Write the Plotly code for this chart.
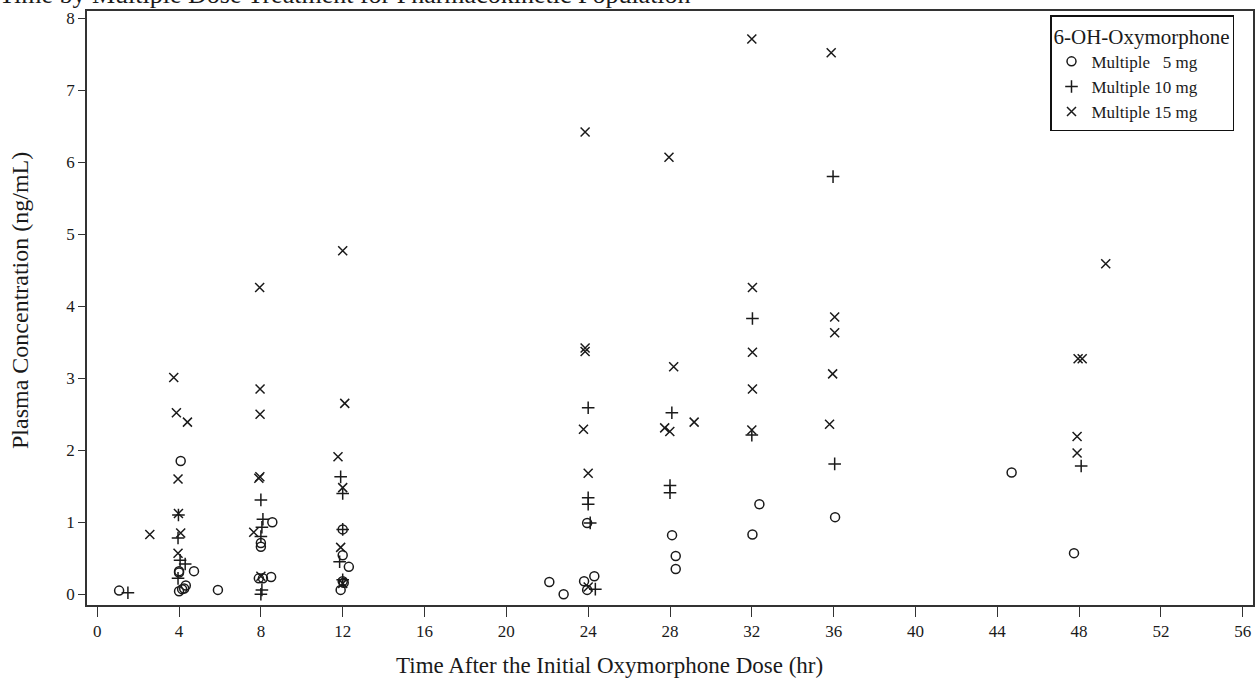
import plotly.graph_objects as go

# ---- data ----
t_5mg = [1.07, 4.08, 4.0, 4.0, 4.73, 4.33, 4.0, 4.15, 4.25, 5.9,
         8.56, 8.0, 8.0, 7.9, 8.1, 8.5,
         12.0, 12.0, 12.3, 12.0, 12.05, 11.9,
         22.1, 22.8, 23.8, 24.3, 23.95, 23.95,
         28.1, 28.28, 28.28,
         32.03, 32.37,
         36.07,
         44.7, 47.75]
c_5mg = [0.05, 1.85, 0.32, 0.30, 0.32, 0.12, 0.04, 0.07, 0.08, 0.06,
         1.00, 0.71, 0.66, 0.22, 0.22, 0.24,
         0.90, 0.54, 0.38, 0.18, 0.16, 0.06,
         0.17, 0.00, 0.18, 0.25, 0.99, 0.06,
         0.82, 0.53, 0.35,
         0.83, 1.25,
         1.07,
         1.69, 0.57]

t_10mg = [1.5, 3.97, 3.95, 4.05, 4.3, 3.95,
          8.0, 8.1, 8.05, 8.0, 8.05, 8.0,
          11.9, 12.0, 12.0, 11.85, 12.0,
          24.0, 24.0, 24.0, 24.1, 24.35,
          28.09, 28.0, 28.0,
          32.03, 32.0,
          35.97, 36.05,
          48.1]
c_10mg = [0.02, 1.10, 0.78, 0.47, 0.42, 0.22,
          1.31, 1.04, 0.93, 0.80, 0.06, 0.00,
          1.63, 1.40, 0.90, 0.45, 0.20,
          2.59, 1.34, 1.25, 0.99, 0.07,
          2.52, 1.51, 1.41,
          3.83, 2.21,
          5.80, 1.81,
          1.78]

t_15mg = [2.57, 3.74, 3.87, 4.41, 3.95, 3.97, 4.08, 3.95,
          7.94, 7.96, 7.96, 7.95, 7.9, 7.65, 8.0,
          12.0, 12.1, 11.77, 12.0, 11.9, 12.0,
          23.85, 23.85, 23.85, 23.77, 24.0, 24.0,
          27.95, 28.18, 29.18, 27.74, 27.99,
          32.0, 32.03, 32.03, 32.03, 32.0,
          35.88, 36.05, 36.05, 35.95, 35.8,
          47.95, 48.15, 47.9, 47.9, 49.3]
c_15mg = [0.83, 3.01, 2.52, 2.39, 1.60, 1.12, 0.85, 0.57,
          4.26, 2.85, 2.50, 1.63, 1.61, 0.86, 0.25,
          4.77, 2.65, 1.91, 1.48, 0.65, 0.15,
          6.42, 3.42, 3.37, 2.29, 1.68, 0.10,
          6.07, 3.16, 2.39, 2.31, 2.26,
          7.71, 4.26, 3.36, 2.85, 2.28,
          7.52, 3.85, 3.63, 3.06, 2.36,
          3.27, 3.27, 2.19, 1.96, 4.59]

series_names = ["Multiple \u20075 mg", "Multiple 10 mg", "Multiple 15 mg"]
x_ticks = list(range(0, 57, 4))
y_ticks = list(range(0, 9))

FONT = "Liberation Serif"
INK = "#1a1a1a"

fig = go.Figure()
for t, c, name, sym in [(t_5mg, c_5mg, series_names[0], "circle-open"),
                        (t_10mg, c_10mg, series_names[1], "cross-thin-open"),
                        (t_15mg, c_15mg, series_names[2], "x-thin-open")]:
    fig.add_trace(go.Scatter(
        x=t, y=c, mode="markers", name=name,
        marker=dict(symbol=sym, size=9, color=INK,
                    line=dict(color=INK, width=1.5)),
    ))

axis_common = dict(showline=True, linecolor="#333333", linewidth=1.5, mirror=True,
                   ticks="outside", tickcolor="#333333", tickwidth=1.2,
                   showgrid=False, zeroline=False, automargin=False,
                   tickfont=dict(family=FONT, size=17, color=INK))

fig.update_xaxes(range=[-0.5, 56.5], tickvals=x_ticks, ticklen=10, **axis_common)
fig.update_yaxes(range=[-0.15, 8.1], tickvals=y_ticks, ticklen=7, **axis_common)

fig.update_layout(
    width=1255, height=688,
    margin=dict(l=87, r=2, t=11, b=83),
    paper_bgcolor="white", plot_bgcolor="white",
    font=dict(family=FONT, color=INK),
    showlegend=True,
    legend=dict(
        x=(1050 - 87) / 1166, y=1 - (15 - 11) / 594, xanchor="left", yanchor="top",
        bordercolor="#111111", borderwidth=1.5, bgcolor="white",
        title=dict(text="6-OH-Oxymorphone", font=dict(family=FONT, size=21, color=INK)),
        font=dict(family=FONT, size=17, color=INK),
        itemwidth=30, tracegroupgap=0,
    ),
    annotations=[
        dict(text="Time After the Initial Oxymorphone Dose (hr)", xref="paper", yref="paper",
             x=(609 - 87) / 1166, y=-(665 - 605) / 594, xanchor="center", yanchor="middle",
             showarrow=False, font=dict(family=FONT, size=23, color=INK)),
        dict(text="Plasma Concentration (ng/mL)", xref="paper", yref="paper",
             x=-(87 - 20) / 1166, y=(605 - 301) / 594, xanchor="center", yanchor="middle",
             textangle=-90, showarrow=False, font=dict(family=FONT, size=24, color=INK)),
        dict(text="Time by Multiple Dose Treatment for Pharmacokinetic Population",
             xref="paper", yref="paper", x=-(87 + 3) / 1166, y=1 + (11 + 5) / 594,
             xanchor="left", yanchor="middle", showarrow=False,
             font=dict(family=FONT, size=26, color=INK)),
    ],
)

fig.write_html("out.html", config={"displayModeBar": False},
               post_script="document.body.style.margin='0';")
